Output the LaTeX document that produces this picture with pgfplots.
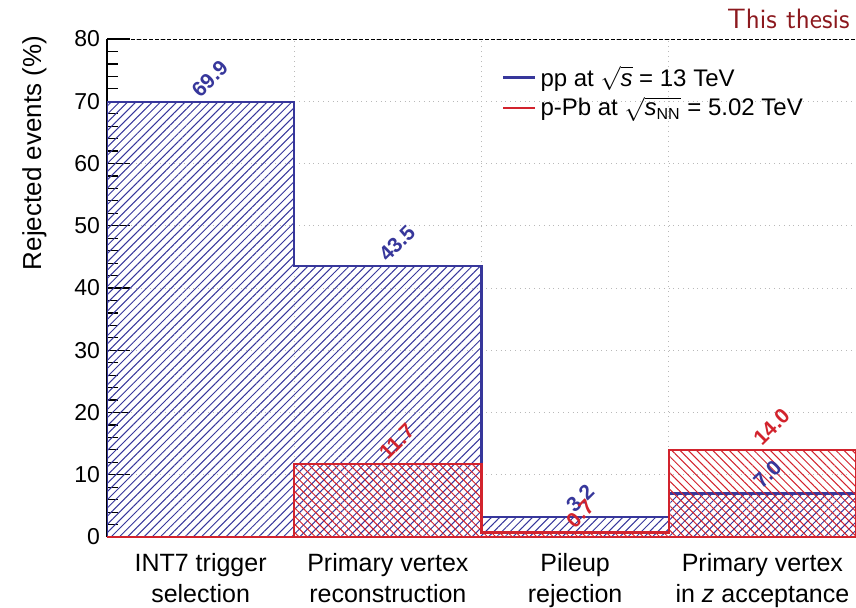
\documentclass[border=0pt]{standalone}
\usepackage{fontspec}
\setmainfont{Liberation Sans}
\usepackage{pgfplots}
\pgfplotsset{compat=1.18}
\usetikzlibrary{patterns.meta}
\definecolor{bblue}{RGB}{55,55,155}
\definecolor{rred}{RGB}{210,35,45}
\definecolor{thesis}{RGB}{140,25,30}
\begin{document}
\begin{tikzpicture}
\begin{axis}[
  name=main,
  scale only axis, width=374.5pt, height=249pt,
  xmin=0, xmax=4, ymin=0, ymax=80,
  axis lines*=left, axis line style={-, black, line width=0.7pt},
  xtick=\empty,
  extra x ticks={0.5,1.5,2.5,3.5},
  extra x tick labels={{INT7 trigger\\selection},{Primary vertex\\reconstruction},{Pileup\\rejection},{Primary vertex\\in \textit{z} acceptance}},
  extra x tick style={major tick length=0pt, xticklabel style={align=center, font=\fontsize{12.5}{15.5}\selectfont, text depth=0pt, yshift=-4.5pt}},
  ytick={0,10,...,80}, minor y tick num=4, ymajorgrids,
  tick align=inside, major tick length=11.5pt, minor tick length=5.5pt,
  tick style={black, line width=0.6pt},
  yticklabel style={font=\fontsize{11.5}{13}\selectfont},
  grid style={gray!55, dotted, line width=0.5pt},
  ylabel={Rejected events (\%)},
  ylabel style={font=\fontsize{13}{15}\selectfont, at={(axis description cs:-0.097,0.771)}, anchor=center},
  /pgf/number format/assume math mode=true,
  legend style={draw=none, fill=none, at={(axis description cs:0.527,0.955)}, anchor=north west, font=\fontsize{12}{14}\selectfont, row sep=0pt, inner sep=0pt},
  legend image code/.code={\draw[#1] (0pt,0pt) -- (16pt,0pt);},
  legend cell align=left,
]
% vertical grid at bin edges
\addplot[forget plot, gray!55, dotted, line width=0.5pt] coordinates {(1,0) (1,80)};
\addplot[forget plot, gray!55, dotted, line width=0.5pt] coordinates {(2,0) (2,80)};
\addplot[forget plot, gray!55, dotted, line width=0.5pt] coordinates {(3,0) (3,80)};
% pp
\addplot[forget plot, const plot, mark=none, draw=bblue, line width=1.2pt,
  pattern={Lines[angle=45, distance=2.9pt, line width=0.5pt]}, pattern color=bblue]
  coordinates {(0,69.9) (1,43.5) (2,3.2) (3,7.0) (4,7.0)} \closedcycle;
% p-Pb
\addplot[forget plot, const plot, mark=none, draw=rred, line width=1.2pt,
  pattern={Lines[angle=-45, distance=2.9pt, line width=0.5pt]}, pattern color=rred]
  coordinates {(0,0) (1,11.7) (2,0.7) (3,14.0) (4,14.0)} \closedcycle;
% labels
\addplot[forget plot, draw=none, mark=none, point meta=y,
  nodes near coords={\pgfmathprintnumber[fixed,fixed zerofill,precision=1]{\pgfplotspointmeta}},
  nodes near coords style={rotate=45, anchor=south west, inner sep=1pt, text=bblue, font=\bfseries\fontsize{10.5}{11}\selectfont}]
  coordinates {(0.5,69.9) (1.5,43.5) (2.5,3.2) (3.5,7.0)};
\addplot[forget plot, draw=none, mark=none, point meta=y,
  nodes near coords={\pgfmathprintnumber[fixed,fixed zerofill,precision=1]{\pgfplotspointmeta}},
  nodes near coords style={rotate=45, anchor=south west, inner sep=1pt, text=rred, font=\bfseries\fontsize{10.5}{11}\selectfont}]
  coordinates {(1.5,11.7) (2.5,0.7) (3.5,14.0)};
\addlegendimage{bblue, line width=1.2pt}
\addlegendentry{pp at $\sqrt{\mbox{\textit{s}}}$ = 13 TeV}
\addlegendimage{rred, line width=1.2pt}
\addlegendentry{p-Pb at $\sqrt{\mbox{\textit{s}\textsubscript{NN}}}$ = 5.02 TeV}
\end{axis}
\draw[black, dash pattern=on 2pt off 1pt, line width=0.5pt] (main.north west) -- (main.north east);
\node[anchor=base east, text=thesis, font=\sffamily\fontsize{14}{16}\selectfont, inner sep=0pt]
  at ([xshift=-3pt, yshift=5.5pt]main.north east) {This thesis};
\pgfresetboundingbox
\path ([xshift=-53.5pt, yshift=-35pt]main.south west) rectangle ([yshift=19.5pt]main.north east);
\end{tikzpicture}
\end{document}
